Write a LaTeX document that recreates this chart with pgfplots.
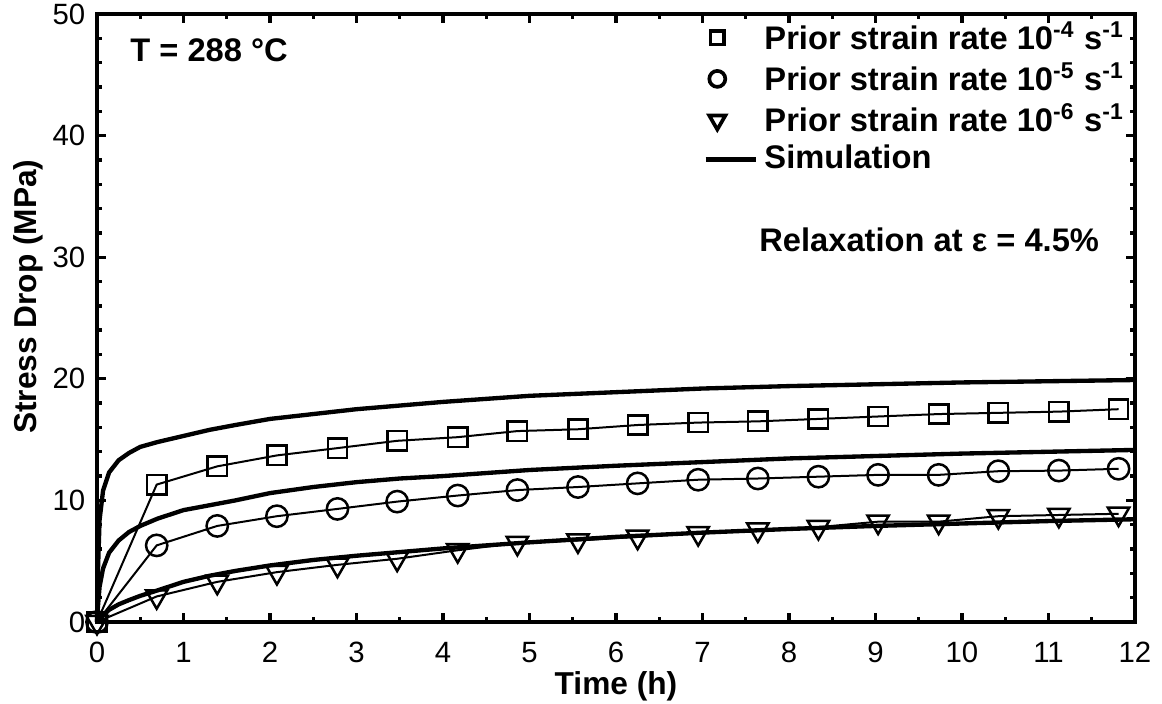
\documentclass[border=0pt]{standalone}
\usepackage{fontspec}
\setmainfont{Liberation Sans}
\usepackage{pgfplots}
\pgfplotsset{compat=1.18}
\pgfplotsset{
  markleg/.style={legend image code/.code={\draw[##1] plot coordinates {(2.5pt,0pt)};}},
  lineleg/.style={legend image code/.code={\draw[##1] (-1pt,0pt) -- (14pt,0pt);}},
}
\begin{document}
\begin{tikzpicture}
\useasboundingbox (-29.1pt,-24.6pt) rectangle (319.5pt,186.6pt);
\begin{axis}[
  at={(0pt,0pt)}, anchor=south west,
  scale only axis, width=311.4pt, height=182.4pt,
  xmin=0, xmax=12, ymin=0, ymax=50,
  xtick={0,1,...,12}, ytick={0,10,...,50},
  minor x tick num=1, minor y tick num=4,
  tick align=inside, major tick length=2.7pt, minor tick length=1.5pt,
  axis line style={line width=1.2pt},
  every tick/.style={black, line width=1pt},
  tick label style={font=\fontsize{8.8}{10}\selectfont},
  xticklabel style={yshift=-2.5pt},
  /pgf/number format/assume math mode=true,
  xlabel={Time (h)}, ylabel={Stress Drop (MPa)},
  label style={font=\bfseries\fontsize{9.5}{11}\selectfont},
  ylabel style={at={(ticklabel cs:0.535)}},
  xlabel shift=-4.2pt, ylabel shift=-3.9pt,
  clip=false,
  legend cell align=left,
  legend style={at={(0.574,1.011)}, anchor=north west, draw=none, fill=none,
    font=\bfseries\fontsize{9.8}{12}\selectfont, row sep=-1.5pt},
]
% legend entries
\addlegendimage{only marks, mark=square, mark size=2pt, line width=1.1pt, markleg}
\addlegendentry{Prior strain rate 10\textsuperscript{-4} s\textsuperscript{-1}}
\addlegendimage{only marks, mark=o, mark size=2.4pt, line width=1.1pt, markleg}
\addlegendentry{Prior strain rate 10\textsuperscript{-5} s\textsuperscript{-1}}
\addlegendimage{only marks, mark=triangle, mark size=2.8pt, line width=1.1pt, mark options={rotate=180}, markleg}
\addlegendentry{Prior strain rate 10\textsuperscript{-6} s\textsuperscript{-1}}
\addlegendimage{black, line width=1.3pt, lineleg}
\addlegendentry{Simulation}

% simulation curves
\addplot[black, line width=1.3pt, forget plot] coordinates {
(0,0) (0.01,4) (0.03,8.4) (0.07,10.8) (0.14,12.3) (0.25,13.3) (0.37,13.9) (0.5,14.4)
(0.7,14.8) (1,15.3) (1.3,15.8) (1.6,16.2) (2,16.7) (2.5,17.1) (3,17.5) (3.5,17.8)
(4,18.1) (4.5,18.35) (5,18.6) (6,18.9) (7,19.2) (8,19.4) (9,19.55) (10,19.7) (11,19.8) (12,19.9)};
\addplot[black, line width=1.3pt, forget plot] coordinates {
(0,0) (0.01,1.2) (0.03,2.9) (0.07,4.4) (0.14,5.7) (0.25,6.7) (0.37,7.4) (0.5,7.9)
(0.7,8.5) (1,9.2) (1.3,9.6) (1.6,10.0) (2,10.6) (2.5,11.1) (3,11.5) (3.5,11.8)
(4,12.0) (4.5,12.25) (5,12.5) (6,12.85) (7,13.15) (8,13.45) (9,13.65) (10,13.85) (11,14.0) (12,14.15)};
\addplot[black, line width=1.3pt, forget plot] coordinates {
(0,0) (0.05,0.4) (0.14,1.0) (0.25,1.45) (0.37,1.8) (0.5,2.15) (0.7,2.6) (1,3.3)
(1.3,3.8) (1.6,4.2) (2,4.65) (2.5,5.1) (3,5.45) (3.5,5.75) (4,6.05) (4.5,6.3)
(5,6.55) (6,7.0) (7,7.35) (8,7.65) (9,7.9) (10,8.1) (11,8.3) (12,8.45)};

% experimental data
\addplot[black, line width=0.6pt, mark=square, mark size=2.9pt, mark options={line width=0.75pt}, forget plot] coordinates {
(0,0) (0.69,11.3) (1.39,12.8) (2.08,13.7) (2.78,14.3) (3.47,14.9) (4.17,15.2) (4.86,15.7)
(5.56,15.85) (6.25,16.2) (6.95,16.4) (7.64,16.5) (8.34,16.7) (9.03,16.9) (9.73,17.1)
(10.42,17.2) (11.12,17.3) (11.81,17.5)};
\addplot[black, line width=0.6pt, mark=o, mark size=3.2pt, mark options={line width=0.75pt}, forget plot] coordinates {
(0,0) (0.69,6.3) (1.39,7.9) (2.08,8.7) (2.78,9.3) (3.47,9.9) (4.17,10.4) (4.86,10.85)
(5.56,11.1) (6.25,11.4) (6.95,11.7) (7.64,11.8) (8.34,11.95) (9.03,12.1) (9.73,12.1)
(10.42,12.4) (11.12,12.45) (11.81,12.6)};
\addplot[black, line width=0.6pt, mark=triangle, mark size=3.7pt, mark options={line width=0.75pt, rotate=180}, forget plot] coordinates {
(0,0) (0.69,2.1) (1.39,3.3) (2.08,4.1) (2.78,4.7) (3.47,5.2) (4.17,5.9) (4.86,6.5)
(5.56,6.7) (6.25,7.0) (6.95,7.3) (7.64,7.6) (8.34,7.8) (9.03,8.25) (9.73,8.25)
(10.42,8.7) (11.12,8.8) (11.81,8.9)};

\node[anchor=west, font=\bfseries\fontsize{9.8}{11}\selectfont] at (axis cs:0.25,47.0) {T = 288 °C};
\node[anchor=east, font=\bfseries\fontsize{9.8}{11}\selectfont] at (axis cs:11.72,31.4) {Relaxation at ε = 4.5\%};
\end{axis}
\end{tikzpicture}
\end{document}
